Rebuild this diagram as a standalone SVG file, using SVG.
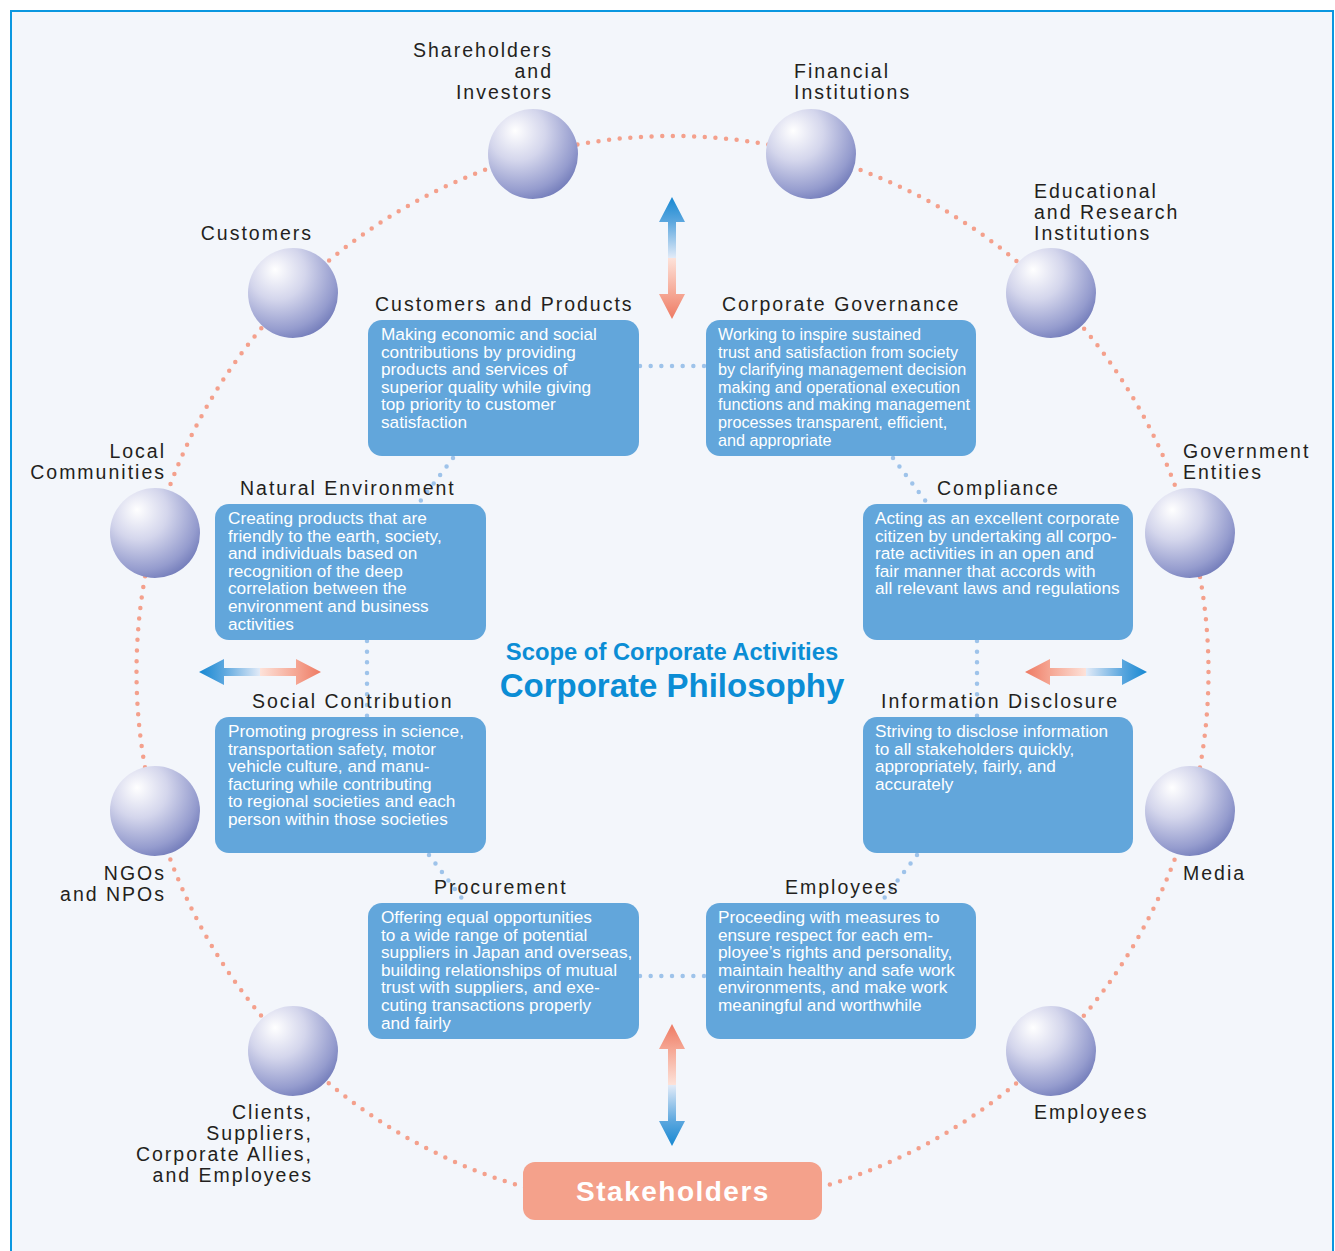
<svg xmlns="http://www.w3.org/2000/svg" width="1335" height="1251" viewBox="0 0 1335 1251">
<defs>
<radialGradient id="sph" cx="0.36" cy="0.3" r="0.78" fx="0.3" fy="0.24">
<stop offset="0" stop-color="#ffffff"/>
<stop offset="0.4" stop-color="#d4d6ec"/>
<stop offset="0.8" stop-color="#959cce"/>
<stop offset="1" stop-color="#6c76b6"/>
</radialGradient>
<linearGradient id="arr" gradientUnits="userSpaceOnUse" x1="0" y1="0" x2="122" y2="0">
<stop offset="0" stop-color="#1688d2"/>
<stop offset="0.2" stop-color="#5aa6de"/>
<stop offset="0.5" stop-color="#e2ebf8"/>
<stop offset="0.5" stop-color="#fde2d9"/>
<stop offset="0.8" stop-color="#f5a592"/>
<stop offset="1" stop-color="#ee7a63"/>
</linearGradient>
<path id="arrow" d="M0,0 L25,-13 L25,-4 L97,-4 L97,-13 L122,0 L97,13 L97,4 L25,4 L25,13 Z" fill="url(#arr)"/>
</defs>
<style>
.bg{fill:#f3f6fb;stroke:#0a97e0;stroke-width:2}
.orb{stroke:#f4a08c;stroke-width:4.5;stroke-linecap:round;fill:none;stroke-dasharray:0 10.658}
.bd{stroke:#9ec3ea;stroke-width:4.5;stroke-linecap:round;fill:none;stroke-dasharray:0 10.67}
.sph{fill:url(#sph)}
.lbl{font-family:"Liberation Sans",Arial,sans-serif;font-size:19.5px;letter-spacing:2px;fill:#231f20}
.end{text-anchor:end}
.box{fill:#62a6db}
.bt{font-family:"Liberation Sans",Arial,sans-serif;font-size:17.2px;fill:#ffffff}
.bt2{font-family:"Liberation Sans",Arial,sans-serif;font-size:16.2px;fill:#ffffff}
.ct{font-family:"Liberation Sans",Arial,sans-serif;font-weight:bold;fill:#0b8dd5;text-anchor:middle}
.sk{fill:#f4a18b}
.skt{font-family:"Liberation Sans",Arial,sans-serif;font-weight:bold;font-size:28px;letter-spacing:1.5px;fill:#ffffff;text-anchor:middle}
</style>
<rect class="bg" x="11" y="11" width="1322" height="1262"/>

<g id="connectors">
<circle class="orb" cx="672.5" cy="672" r="536"/>
<line class="bd" x1="640" y1="366" x2="706" y2="366"/>
<line class="bd" x1="640" y1="976" x2="706" y2="976"/>
<line class="bd" x1="453" y1="458" x2="419" y2="503"/>
<line class="bd" x1="893" y1="458" x2="927" y2="503"/>
<line class="bd" x1="367" y1="641" x2="367" y2="716"/>
<line class="bd" x1="977" y1="641" x2="977" y2="716"/>
<line class="bd" x1="429" y1="855" x2="464" y2="901"/>
<line class="bd" x1="917" y1="855" x2="882" y2="901"/>
</g>

<g id="arrows">
<use href="#arrow" transform="translate(199,672)"/>
<use href="#arrow" transform="translate(1147,672) rotate(180)"/>
<use href="#arrow" transform="translate(672,197) rotate(90)"/>
<use href="#arrow" transform="translate(672,1146) rotate(-90)"/>
</g>

<g id="shareholders">
<circle class="sph" cx="533" cy="154" r="45"/>
<text class="lbl end" x="553" y="57">Shareholders</text>
<text class="lbl end" x="553" y="78">and</text>
<text class="lbl end" x="553" y="99">Investors</text>
</g>
<g id="financial">
<circle class="sph" cx="811" cy="154" r="45"/>
<text class="lbl" x="794" y="78">Financial</text>
<text class="lbl" x="794" y="99">Institutions</text>
</g>
<g id="customers">
<circle class="sph" cx="293" cy="293" r="45"/>
<text class="lbl end" x="313" y="240">Customers</text>
</g>
<g id="educational">
<circle class="sph" cx="1051" cy="293" r="45"/>
<text class="lbl" x="1034" y="198">Educational</text>
<text class="lbl" x="1034" y="219">and Research</text>
<text class="lbl" x="1034" y="240">Institutions</text>
</g>
<g id="local">
<circle class="sph" cx="155" cy="533" r="45"/>
<text class="lbl end" x="166" y="458">Local</text>
<text class="lbl end" x="166" y="479">Communities</text>
</g>
<g id="government">
<circle class="sph" cx="1190" cy="533" r="45"/>
<text class="lbl" x="1183" y="458">Government</text>
<text class="lbl" x="1183" y="479">Entities</text>
</g>
<g id="ngos">
<circle class="sph" cx="155" cy="811" r="45"/>
<text class="lbl end" x="166" y="880">NGOs</text>
<text class="lbl end" x="166" y="901">and NPOs</text>
</g>
<g id="media">
<circle class="sph" cx="1190" cy="811" r="45"/>
<text class="lbl" x="1183" y="880">Media</text>
</g>
<g id="clients">
<circle class="sph" cx="293" cy="1051" r="45"/>
<text class="lbl end" x="313" y="1119">Clients,</text>
<text class="lbl end" x="313" y="1140">Suppliers,</text>
<text class="lbl end" x="313" y="1161">Corporate Allies,</text>
<text class="lbl end" x="313" y="1182">and Employees</text>
</g>
<g id="employees-sh">
<circle class="sph" cx="1051" cy="1051" r="45"/>
<text class="lbl" x="1034" y="1119">Employees</text>
</g>

<g id="stakeholders">
<rect class="sk" x="523" y="1162" width="299" height="58" rx="12"/>
<text class="skt" x="673" y="1201">Stakeholders</text>
</g>

<g id="center">
<text class="ct" x="672" y="660" font-size="23.8px">Scope of Corporate Activities</text>
<text class="ct" x="672" y="697" font-size="33px">Corporate Philosophy</text>
</g>

<g id="box-customers-products">
<text class="lbl" x="375" y="311">Customers and Products</text>
<rect class="box" x="368" y="320" width="271" height="136" rx="14"/>
<text class="bt" x="381" y="340">Making economic and social</text>
<text class="bt" x="381" y="357.6">contributions by providing</text>
<text class="bt" x="381" y="375.2">products and services of</text>
<text class="bt" x="381" y="392.8">superior quality while giving</text>
<text class="bt" x="381" y="410.4">top priority to customer</text>
<text class="bt" x="381" y="428">satisfaction</text>
</g>
<g id="box-governance">
<text class="lbl" x="722" y="311">Corporate Governance</text>
<rect class="box" x="706" y="320" width="270" height="136" rx="14"/>
<text class="bt2" x="718" y="340">Working to inspire sustained</text>
<text class="bt2" x="718" y="357.6">trust and satisfaction from society</text>
<text class="bt2" x="718" y="375.2">by clarifying management decision</text>
<text class="bt2" x="718" y="392.8">making and operational execution</text>
<text class="bt2" x="718" y="410.4">functions and making management</text>
<text class="bt2" x="718" y="428">processes transparent, efficient,</text>
<text class="bt2" x="718" y="445.6">and appropriate</text>
</g>
<g id="box-natural">
<text class="lbl" x="240" y="495">Natural Environment</text>
<rect class="box" x="215" y="504" width="271" height="136" rx="14"/>
<text class="bt" x="228" y="524">Creating products that are</text>
<text class="bt" x="228" y="541.6">friendly to the earth, society,</text>
<text class="bt" x="228" y="559.2">and individuals based on</text>
<text class="bt" x="228" y="576.8">recognition of the deep</text>
<text class="bt" x="228" y="594.4">correlation between the</text>
<text class="bt" x="228" y="612">environment and business</text>
<text class="bt" x="228" y="629.6">activities</text>
</g>
<g id="box-compliance">
<text class="lbl" x="937" y="495">Compliance</text>
<rect class="box" x="863" y="504" width="270" height="136" rx="14"/>
<text class="bt" x="875" y="524">Acting as an excellent corporate</text>
<text class="bt" x="875" y="541.6">citizen by undertaking all corpo-</text>
<text class="bt" x="875" y="559.2">rate activities in an open and</text>
<text class="bt" x="875" y="576.8">fair manner that accords with</text>
<text class="bt" x="875" y="594.4">all relevant laws and regulations</text>
</g>
<g id="box-social">
<text class="lbl" x="252" y="708">Social Contribution</text>
<rect class="box" x="215" y="717" width="271" height="136" rx="14"/>
<text class="bt" x="228" y="737">Promoting progress in science,</text>
<text class="bt" x="228" y="754.6">transportation safety, motor</text>
<text class="bt" x="228" y="772.2">vehicle culture, and manu-</text>
<text class="bt" x="228" y="789.8">facturing while contributing</text>
<text class="bt" x="228" y="807.4">to regional societies and each</text>
<text class="bt" x="228" y="825">person within those societies</text>
</g>
<g id="box-disclosure">
<text class="lbl" x="881" y="708">Information Disclosure</text>
<rect class="box" x="863" y="717" width="270" height="136" rx="14"/>
<text class="bt" x="875" y="737">Striving to disclose information</text>
<text class="bt" x="875" y="754.6">to all stakeholders quickly,</text>
<text class="bt" x="875" y="772.2">appropriately, fairly, and</text>
<text class="bt" x="875" y="789.8">accurately</text>
</g>
<g id="box-procurement">
<text class="lbl" x="434" y="894">Procurement</text>
<rect class="box" x="368" y="903" width="271" height="136" rx="14"/>
<text class="bt" x="381" y="923">Offering equal opportunities</text>
<text class="bt" x="381" y="940.6">to a wide range of potential</text>
<text class="bt" x="381" y="958.2">suppliers in Japan and overseas,</text>
<text class="bt" x="381" y="975.8">building relationships of mutual</text>
<text class="bt" x="381" y="993.4">trust with suppliers, and exe-</text>
<text class="bt" x="381" y="1011">cuting transactions properly</text>
<text class="bt" x="381" y="1028.6">and fairly</text>
</g>
<g id="box-employees">
<text class="lbl" x="785" y="894">Employees</text>
<rect class="box" x="706" y="903" width="270" height="136" rx="14"/>
<text class="bt" x="718" y="923">Proceeding with measures to</text>
<text class="bt" x="718" y="940.6">ensure respect for each em-</text>
<text class="bt" x="718" y="958.2">ployee’s rights and personality,</text>
<text class="bt" x="718" y="975.8">maintain healthy and safe work</text>
<text class="bt" x="718" y="993.4">environments, and make work</text>
<text class="bt" x="718" y="1011">meaningful and worthwhile</text>
</g>
</svg>
